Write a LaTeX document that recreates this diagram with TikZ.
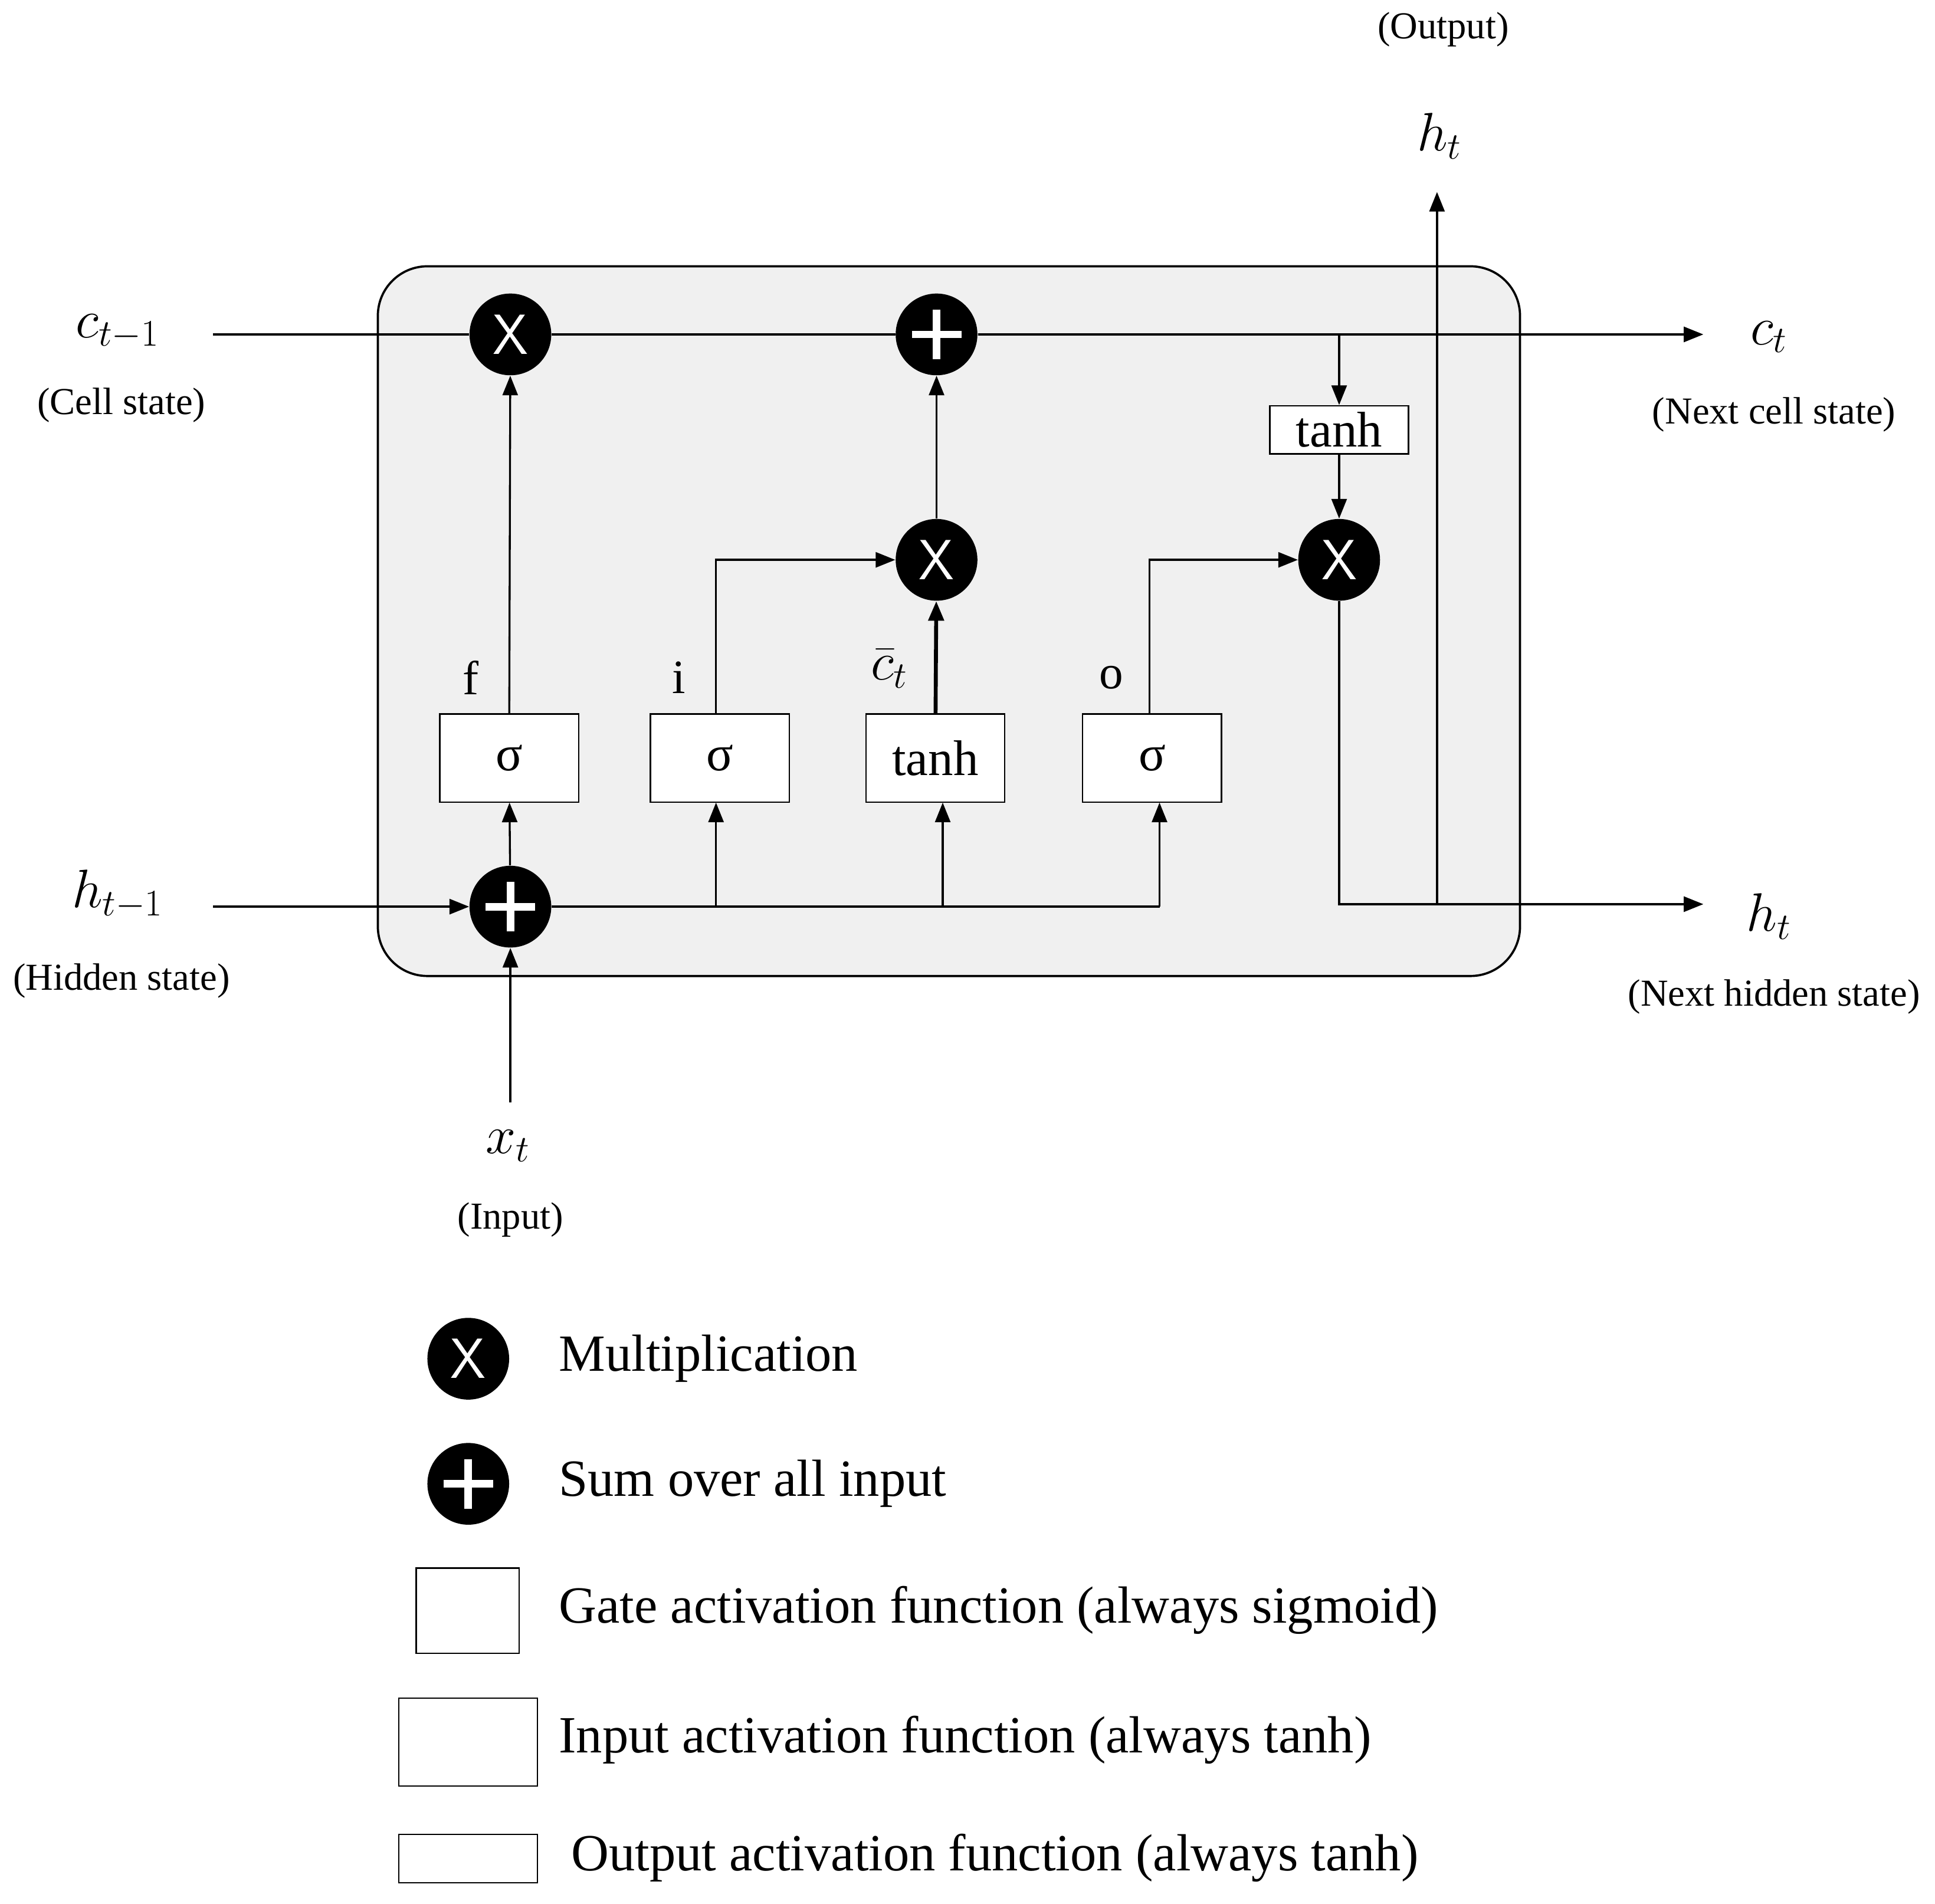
\documentclass[tikz,border=0pt]{standalone}
\usepackage{fontspec}
\setmainfont{Liberation Serif}
\usetikzlibrary{arrows.meta}
\begin{document}
\begin{tikzpicture}[x=0.02cm,y=-0.02cm,
  ln/.style={line width=0.9pt},
  ar/.style={ln,-{Triangle[length=9pt,width=7pt]}},
  op/.style={circle,fill=black,minimum size=1.32cm,inner sep=0pt,text=white,font=\sffamily\fontsize{26}{26}\selectfont},
  gate/.style={draw,line width=0.6pt,fill=white,minimum width=2.24cm,minimum height=1.42cm,inner sep=0pt,font=\fontsize{23}{23}\selectfont},
  lbl/.style={font=\fontsize{17.5}{17.5}\selectfont},
  mth/.style={font=\fontsize{27}{27}\selectfont},
  leg/.style={anchor=west,font=\fontsize{24}{24}\selectfont}]
\useasboundingbox (0,0) rectangle (1562,1537);
\draw[line width=1pt,fill=black!6,rounded corners=0.8cm] (305,215) rectangle (1227,788);
% ops
\node[op] (m1) at (412,270) {X};
\node[op] (p1) at (756,270) {};
\node[op] (m2) at (756,452) {X};
\node[op] (m3) at (1081,452) {X};
\node[op] (p2) at (412,732) {};
\foreach \n in {p1,p2}{\draw[white,line width=3.5pt] (\n.center)+(-20,0) -- +(20,0) (\n.center)+(0,-20) -- +(0,20);}
% gates
\node[gate] (s1) at (411,612) {σ};
\node[gate] (s2) at (581,612) {σ};
\node[gate] (th) at (755,612) {tanh};
\node[gate] (s4) at (930,612) {σ};
\node[gate,minimum height=0.78cm] (th2) at (1081,347) {tanh};
\node[font=\fontsize{22}{22}\selectfont] at (380,547) {f};
\node[font=\fontsize{22}{22}\selectfont] at (548,547) {i};
\node[mth] at (718,540) {$\bar c_t$};
\node[font=\fontsize{22}{22}\selectfont] at (897,547) {o};
% outer labels
\node[mth] (ct1) at (95,268) {$c_{t-1}$};
\node[lbl] at (98,327) {(Cell state)};
\node[mth] (ht1) at (95,722) {$h_{t-1}$};
\node[lbl] at (98,792) {(Hidden state)};
\node[mth] (ct) at (1428,272) {$c_t$};
\node[lbl] at (1432,335) {(Next cell state)};
\node[mth] (ht) at (1428,740) {$h_t$};
\node[lbl] at (1432,805) {(Next hidden state)};
\node[mth] (ho) at (1162,110) {$h_t$};
\node[lbl] at (1165,24) {(Output)};
\node[mth] (xt) at (410,925) {$x_t$};
\node[lbl] at (412,985) {(Input)};
\coordinate (cs) at (172,270); \coordinate (ce) at (1375,270);
\coordinate (hs) at (172,732); \coordinate (he) at (1375,730);
\coordinate (ot) at (1160,155); \coordinate (xb) at (412,890);
% connectors
\draw[ln] (cs) -- (m1) -- (p1);
\draw[ar] (p1) -- (ce);
\draw[ar] (hs) -- (p2);
\draw[ar] (xb) -- (p2);
\draw[ar] (p2) -- (s1);
\draw[ar] (s1) -- (m1);
\draw[ln] (p2) -- (936,732);
\draw[ar] (936,732) -- (936,648);
\draw[ar] (578,732) -- (578,648);
\draw[ar] (761,732) -- (761,648);
\draw[ar] (578,577) -- (578,452) -- (m2);
\draw[ar,line width=1.8pt] (th) -- (m2);
\draw[ar] (m2) -- (p1);
\draw[ar] (928,577) -- (928,452) -- (m3);
\draw[ar] (1081,270) -- (th2);
\draw[ar] (th2) -- (m3);
\draw[ln] (m3) -- (1081,730) -- (1160,730);
\draw[ar] (1160,730) -- (he);
\draw[ar] (1160,730) -- (ot);
% legend
\node[op] (lm) at (378,1097) {X};
\node[op] (lp) at (378,1198) {};
\draw[white,line width=3.5pt] (358,1198) -- (398,1198) (378,1178) -- (378,1218);
\draw[line width=0.6pt] (336,1266) rectangle (419,1335);
\draw[line width=0.6pt] (322,1371) rectangle (434,1442);
\draw[line width=0.6pt] (322,1481) rectangle (434,1520);
\node[leg] at (445,1097) {Multiplication};
\node[leg] at (445,1198) {Sum over all input};
\node[leg] at (445,1300) {Gate activation function (always sigmoid)};
\node[leg] at (445,1405) {Input activation function (always tanh)};
\node[leg] at (455,1500) {Output activation function (always tanh)};
\end{tikzpicture}
\end{document}
